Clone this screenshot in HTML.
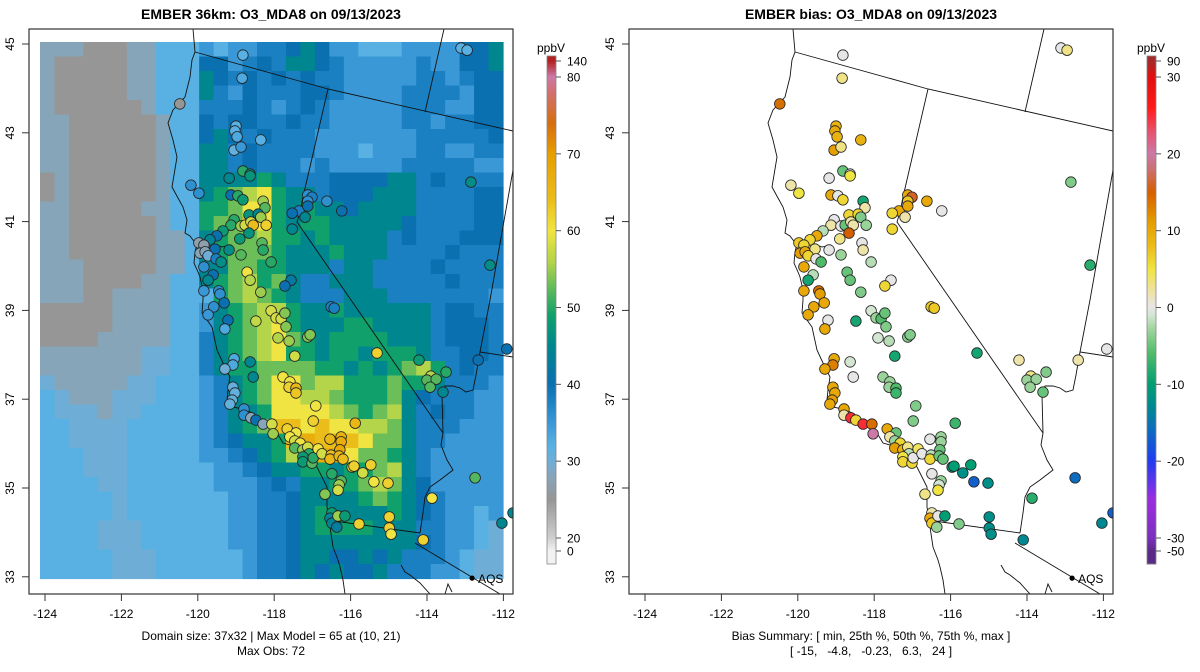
<!DOCTYPE html>
<html><head><meta charset="utf-8"><title>EMBER O3_MDA8</title>
<style>
html,body{margin:0;padding:0;background:#fff;}
svg{display:block;font-family:"Liberation Sans",Arial,sans-serif;}
</style></head>
<body>
<svg id="fig" width="1200" height="672" viewBox="0 0 1200 672" xmlns="http://www.w3.org/2000/svg">
<defs>
<clipPath id="clipL"><rect x="29" y="29" width="484" height="565"/></clipPath>
<clipPath id="clipR"><rect x="629" y="29" width="484" height="565"/></clipPath>
</defs>
<text x="271" y="19" text-anchor="middle" font-size="14" font-weight="bold">EMBER 36km: O3_MDA8 on 09/13/2023</text>
<text x="871" y="19" text-anchor="middle" font-size="14" font-weight="bold">EMBER bias: O3_MDA8 on 09/13/2023</text>
<g id="left-panel"></g>
<g id="right-panel"></g>
<text x="271" y="640" text-anchor="middle" font-size="12">Domain size: 37x32 | Max Model = 65 at (10, 21)</text>
<text x="271" y="655" text-anchor="middle" font-size="12">Max Obs: 72</text>
<text x="871" y="640" text-anchor="middle" font-size="12">Bias Summary: [ min, 25th %, 50th %, 75th %, max ]</text>
<text x="871" y="655" text-anchor="middle" font-size="12" xml:space="preserve">[ -15,   -4.8,   -0.23,   6.3,   24 ]</text>
</svg>
<script>
// ---- data ----
const gridRows = [
"hhhggghhlll"+"mlmmbbdtdmm"+"lllmmmmddt",
"hggggghhlll"+"ddmbdbttdbm"+"mmmmbmmddt",
"hggggghhlll"+"tdbdbdbdbbm"+"mmmmbbmbdd",
"hggggghhlll"+"tbmdbbbddbm"+"mmmbbbbmdd",
"hgggggghlll"+"bbbdbmbdbmm"+"mmmbbbmmdd",
"hhgggggghll"+"dbddbbdbbmm"+"mmmbbmbbdd",
"hhgggggghll"+"dtdbdbbbmmm"+"mmmmbbbbbd",
"hhgggggghll"+"ttbdbbbbmmm"+"lmmmbbmmbb",
"hhgggggghll"+"ttbdbbbmbmm"+"mmmbbbbbmm",
"ghgggggghll"+"ttttGtbbbdd"+"ddttbdbbbb",
"ghgggggghll"+"tGLKYGttbdd"+"dtttbbbbdd",
"hhggggghhll"+"GGLYYGtGttd"+"ttttbbbbdd",
"hhgggggghll"+"GLLOYGtGGtt"+"tttdbbbbdd",
"hhgggggghhl"+"tGLLKGGtGtt"+"ttbdbbbddd",
"hhgggggghhl"+"tGLLLGtttGt"+"ttbbbbdbbb",
"hhhggggghhl"+"ttLLGGtttbt"+"tbbbbdbbbb",
"hhhgggghhll"+"tGLKGLtbbtt"+"tbbbbbdbbb",
"hhhgghhhhll"+"lGLKLGtbbbt"+"ttbbbbbbbm",
"ggggghhhhll"+"mtGLKKGttGt"+"tttttbddbb",
"ggggghhhhll"+"mtGLKYGtttG"+"Gttttbdddb",
"gggghhhhhll"+"btGLKYLGtGG"+"GGtttbdddb",
"hhhhhhhiill"+"btGLKYGGtGG"+"tGGGtbbddb",
"hhhhhhhiill"+"btGGLLLLGGt"+"GtGLKGbdbb",
"ihhhhhiilll"+"mbtGLYYLKKG"+"GGLGGtbbbm",
"lihhhiiilll"+"mbtGLYYKKLG"+"GGLtdbbbmm",
"liiihiillll"+"mbttGYYYYKL"+"GLKtbdbbmm",
"lliiiilllll"+"mbtGLOOYOYY"+"KKLtbbbmmm",
"lliiiilllll"+"mbdttGOROOO"+"YLLtbbmmmm",
"llliiilllll"+"mmbdtGKORRY"+"LLGtbmmmmm",
"llliiilllll"+"lmmbdttGGtG"+"GLKtbmmmmm",
"lllliilllll"+"lmmmbdbttGG"+"LKLtdmmmmm",
"lllllilllll"+"llmmbbdtttt"+"GLGtdbmmmm",
"lllllilllll"+"llmmbbdtGtt"+"ttGtdbmmlm",
"lllliiilll"+"lllmmbbdtGGG"+"Gtttbbmmli",
"lllliiilll"+"lllmmbbdtttt"+"ttttdbmmli",
"llllliiilll"+"lllmbbdttdd"+"tdtbbbmlii",
"llllliiilll"+"lllmbbdtdtd"+"dtbbbmmlii"];
const levelCodes = ["g","h","i","l","m","b","d","t","G","L","K","Y","O","R"];
const levelValues = [25,28,30,32,35,38,40,45,49,53,56,60,64,67];

const siteLon = [-118.82,-118.84,-120.47,-119.00,-119.03,-118.97,-118.35,-119.05,-118.87,-118.82,-118.63,-118.63,-119.18,-120.18,-119.97,-119.13,-118.95,-118.82,-118.29,-118.24,-118.66,-118.42,-118.35,-119.05,-119.13,-118.87,-118.76,-118.61,-118.55,-118.21,-118.66,-119.34,-119.50,-119.68,-119.97,-119.84,-118.90,-118.32,-118.29,-119.55,-119.18,-119.94,-119.81,-119.73,-119.52,-119.39,-118.87,-118.08,-119.84,-119.60,-119.73,-118.71,-118.63,-117.56,-117.72,-119.84,-119.45,-119.42,-118.35,-119.31,-119.58,-116.51,-116.43,-119.73,-119.21,-118.48,-118.08,-117.95,-117.82,-117.72,-117.35,-117.53,-117.19,-117.53,-117.12,-117.01,-117.12,-117.12,-116.62,-116.23,-113.11,-112.95,-112.85,-112.35,
-119.29,-117.69,-117.90,-117.61,-117.12,-117.06,-117.46,-115.31,-119.05,-119.08,-119.29,-118.63,-118.55,-117.77,-117.59,-117.61,-117.43,-117.43,-119.08,-119.03,-119.10,-119.16,-116.91,-116.98,-115.88,-114.21,-113.90,-114.00,-113.76,-113.92,-113.50,-113.58,-112.66,-111.91,-118.79,-118.79,-118.61,-118.48,-118.29,-118.06,-118.03,-117.66,-117.43,-117.59,-117.46,-117.32,-117.46,-117.25,-117.12,-117.09,-117.25,-117.25,-117.01,-116.98,-116.85,-116.75,-116.54,-116.25,-116.25,-116.28,-116.51,-116.54,-116.30,-116.20,-115.96,-115.91,-115.68,-115.47,-115.39,-115.02,-116.49,-116.25,-116.30,-116.33,-116.67,-113.87,-112.74,-116.49,-116.54,-116.49,-116.33,-116.15,-116.36,-115.78,-114.99,-114.99,-114.94,-114.10,-112.04,-111.75];
const siteLat = [44.75,44.23,43.65,43.15,43.04,42.91,42.84,42.61,42.68,42.14,42.07,42.03,41.98,41.82,41.64,41.60,41.58,41.49,41.46,41.31,41.15,41.17,41.10,41.04,40.92,40.90,40.92,40.99,40.92,40.92,40.74,40.79,40.68,40.59,40.52,40.47,40.61,40.52,40.36,40.38,40.36,40.29,40.32,40.23,40.16,40.09,40.25,40.09,39.98,39.80,39.68,39.86,39.68,39.68,39.55,39.44,39.44,39.37,39.41,39.17,39.08,39.08,39.05,38.90,38.78,38.76,38.99,38.83,38.81,38.94,41.24,41.19,41.10,40.83,41.60,41.55,41.46,41.35,41.46,41.24,44.91,44.86,41.89,40.02,
38.58,38.63,38.38,38.31,38.40,38.45,37.97,38.04,37.91,37.77,37.68,37.84,37.50,37.50,37.39,37.27,37.25,37.14,37.27,37.14,36.98,36.89,36.85,36.51,36.46,37.88,37.52,37.43,37.45,37.27,37.61,37.16,37.88,38.13,36.78,36.64,36.58,36.53,36.44,36.44,36.22,36.33,36.24,36.15,36.06,36.01,35.90,35.86,35.92,35.77,35.70,35.59,35.56,35.68,35.88,35.77,36.10,36.15,36.04,35.86,35.74,35.65,35.72,35.65,35.47,35.49,35.34,35.52,35.14,35.11,35.32,35.16,35.07,34.95,34.86,34.77,35.23,34.44,34.32,34.21,34.37,34.37,34.12,34.19,34.35,34.10,33.96,33.83,34.21,34.44];
const siteObs = [32,33,25,32,32,33,32,31,35,50,48,47,45,36,36,40,50,48,55,52,47,45,55,50,50,55,58,58,64,62,47,48,40,44,27,27,48,52,50,40,46,28,28,30,38,46,52,50,36,40,45,60,56,42,40,35,36,36,55,40,36,38,38,35,40,57,58,58,58,54,38,40,45,45,36,38,36,40,36,40,32,32,46,46,
33,54,56,55,54,54,58,62,33,33,30,45,45,60,60,62,65,63,31,31,31,31,60,62,65,48,56,52,52,52,50,45,40,40,36,36,28,40,28,58,55,62,60,60,58,60,52,55,58,50,48,48,52,50,60,58,65,66,67,68,64,65,65,64,62,62,58,62,60,62,50,52,55,58,54,60,52,48,44,44,55,48,43,62,62,62,60,62,45,45];
const siteBias = [0,3,14,9,10,9,9,11,3,-5,0,5,0,2,5,10,0,6,-9,2,6,6,-4,0,2,0,-5,2,2,-3,15,-2,10,6,7,6,3,0,2,3,0,11,10,6,0,-6,-3,-2,10,-2,-9,-5,-5,0,6,10,14,11,-4,10,10,7,7,10,0,-9,-1,-3,-6,-5,10,6,2,6,10,16,7,10,10,0,0,3,-4,-8,
10,-4,-1,-2,-4,-4,-9,-9,10,13,10,-1,0,-3,-3,-3,-6,-7,10,10,11,10,-4,-4,-7,2,3,-3,-3,-3,-4,-5,2,0,10,2,25,6,25,14,20,10,-5,2,-3,6,11,9,3,-2,5,6,6,0,4,0,0,-3,-3,-5,-2,6,-5,-5,-10,-10,-12,-10,-17,-12,0,-3,-1,5,3,-8,-16,2,10,7,0,-10,-3,-4,-12,-12,-12,-13,-13,-17];

const aqsLon = -112.82, aqsLat = 32.97;
const lonTicks = [-124,-122,-120,-118,-116,-114,-112];
const latTicks = [33,35,37,39,41,43,45];
const obsBarTicks = [0,20,30,40,50,60,70,80,140];
const biasBarTicks = [-50,-30,-20,-10,0,10,20,30,90];

// ---- scales ----
const NS = "http://www.w3.org/2000/svg";
function xAxis(lon, off){ return off + 45 + (lon + 124) * 38.2; }
function yAxis(lat){ return 44 + (45 - lat) * 44.4; }
function hex(c){ return [parseInt(c.substr(1,2),16),parseInt(c.substr(3,2),16),parseInt(c.substr(5,2),16)]; }
function interp(stops, v){
  if (v <= stops[0][0]) return stops[0][1];
  for (let i=1;i<stops.length;i++){
    if (v <= stops[i][0]){
      const t=(v-stops[i-1][0])/(stops[i][0]-stops[i-1][0]);
      const a=hex(stops[i-1][1]), b=hex(stops[i][1]);
      return "rgb("+a.map((x,k)=>Math.round(x+(b[k]-x)*t)).join(",")+")";
    }
  }
  return stops[stops.length-1][1];
}
const obsStops=[[0,'#f2f2f2'],[20,'#cfcfcf'],[25,'#969696'],[28,'#87a5b8'],[30,'#6eaed6'],[32,'#58b1e2'],[35,'#3a98d6'],[38,'#1a80c2'],[40,'#0a70b0'],[45,'#00868e'],[49,'#10a06c'],[53,'#6cbf58'],[56,'#b4d44a'],[60,'#f0e442'],[64,'#ebbd1a'],[70,'#e69f00'],[74,'#d56e10'],[78,'#d27070'],[80,'#cc79a7'],[140,'#b22222']];
const biasStops=[[-50,'#5b2a86'],[-30,'#7b2fbe'],[-25,'#9a2de0'],[-20,'#1f3cf0'],[-16,'#0d6bc0'],[-13,'#008892'],[-10,'#009e73'],[-6,'#4fbb6a'],[-3,'#9ad39a'],[-1,'#d2e6d2'],[0,'#e6e6e6'],[2,'#eee3a8'],[5,'#f0e442'],[8,'#ebbc18'],[11,'#e69f00'],[15,'#d55e00'],[18,'#cc7070'],[20,'#cc79a7'],[23,'#e8506a'],[26,'#ff1a1a'],[30,'#e01010'],[90,'#a52a2a']];
function barY(v, keys){
  const ys=[564,551,538,77,61,56];
  for(let i=1;i<keys.length;i++){ if(v<=keys[i]) return ys[i-1]+(ys[i]-ys[i-1])*(v-keys[i-1])/(keys[i]-keys[i-1]); }
  return 56;
}
const obsKeys=[-5,0,20,80,140,150], biasKeys=[-60,-50,-30,30,90,100];

function el(tag, attrs, parent){ const e=document.createElementNS(NS,tag); for(const k in attrs) e.setAttribute(k,attrs[k]); parent.appendChild(e); return e; }

const coast = [[193,29],[195,52],[192,60],[190,77],[185,97],[173,110],[168,123],[173,140],[177,157],[172,187],[178,198],[183,207],[187,220],[185,233],[190,236],[193,240],[197,244],[195,252],[194,263],[198,272],[200,277],[203,290],[203,300],[202,313],[207,320],[212,327],[217,350],[223,363],[230,377],[228,390],[227,400],[233,407],[247,410],[263,420],[277,433],[283,443],[297,447],[303,457],[317,467],[322,477],[327,487],[327,507],[330,527],[333,547],[338,560],[340,567],[343,580],[345,594]];
const borders = [
 [[195,52],[328,89],[513,131]],
 [[444,29],[425,112]],
 [[328,89],[303,197],[300,212],[297,222],[443,433]],
 [[443,433],[441,445],[447,460],[453,470],[440,480],[430,487],[425,497],[423,513],[420,533]],
 [[327,520],[420,533]],
 [[415,543],[500,594]],
 [[513,170],[490,300],[480,352],[513,357]],
 [[480,352],[476,375],[473,390],[466,392],[460,388],[453,386],[445,386],[442,395],[443,433]],
 [[197,240],[212,243],[222,247],[230,245]],
 [[401,565],[405,572],[410,575],[420,583],[430,594]],
 [[445,594],[448,584],[452,592]]
];
function pts(a,off){ return a.map(p=>(p[0]+off)+","+p[1]).join(" "); }

function drawPanel(g, off, isBias){
  const clip = isBias ? "url(#clipR)" : "url(#clipL)";
  const inner = el("g",{"clip-path":clip},g);
  if(!isBias){
    const rg = el("g",{},inner);
    
    
    const cw=463/32, rh=536.5/37;
    gridRows.forEach((row,r)=>{
      for(let c=0;c<32;c++){
        const ch=row[c]||"b";
        const v=levelValues[levelCodes.indexOf(ch)];
        el("rect",{x:(40+c*cw).toFixed(2),y:(42+r*rh).toFixed(2),width:(cw+0.6).toFixed(2),height:(rh+0.6).toFixed(2),fill:interp(obsStops,v)},rg);
      }
    });
  }
  const lg = el("g",{fill:"none",stroke:"#111","stroke-width":"0.9"},inner);
  
  
  el("polyline",{points:pts(coast,off)},lg);
  borders.forEach(b=>el("polyline",{points:pts(b,off)},lg));
  const sg = el("g",{},inner);
  
  
  for(let i=0;i<siteLon.length;i++){
    const v = isBias ? siteBias[i] : siteObs[i];
    const c = el("circle",{cx:xAxis(siteLon[i],off).toFixed(1),cy:yAxis(siteLat[i]).toFixed(1),r:"5.3",fill:interp(isBias?biasStops:obsStops,v),stroke:"#222","stroke-width":"0.8"},sg);
    
    
  }
  const ax=xAxis(aqsLon,off), ay=yAxis(aqsLat);
  const aq=el("circle",{cx:ax,cy:ay,r:"2.6",fill:"#000"},inner);
  
  
  const at=el("text",{x:ax+6,y:ay+5,"font-size":"12"},inner); at.textContent="AQS";
  
  
  const box=el("rect",{x:29+off,y:29,width:484,height:565,fill:"none",stroke:"#333","stroke-width":"1.2"},g);
  
  
  lonTicks.forEach(t=>{
    const x=xAxis(t,off);
    el("line",{x1:x,y1:594,x2:x,y2:601,stroke:"#333"},g);
    const tx=el("text",{x:x,y:618,"text-anchor":"middle","font-size":"12"},g); tx.textContent=t;
    
    
  });
  latTicks.forEach(t=>{
    const y=yAxis(t);
    el("line",{x1:22+off,y1:y,x2:29+off,y2:y,stroke:"#333"},g);
    const tx=el("text",{x:14+off,y:y,"text-anchor":"middle","font-size":"12",transform:"rotate(-90 "+(14+off)+" "+y+")"},g); tx.textContent=t;
    
    
  });
  const cb=el("g",{},g);
  
  
  const keys=isBias?biasKeys:obsKeys, stops=isBias?biasStops:obsStops;
  const bx=547+off;
  for(let y=56;y<564;y+=2){
    let lo=keys[0],hi=keys[keys.length-1];
    for(let k=0;k<30;k++){ const m=(lo+hi)/2; if(barY(m,keys)>y+1) lo=m; else hi=m; }
    el("rect",{x:bx,y:y,width:9,height:2.4,fill:interp(stops,(lo+hi)/2)},cb);
  }
  el("rect",{x:bx,y:56,width:9,height:508,fill:"none",stroke:"#888","stroke-width":"0.8"},cb);
  (isBias?biasBarTicks:obsBarTicks).forEach(t=>{
    const y=barY(t,keys);
    el("line",{x1:bx+9,y1:y,x2:bx+14,y2:y,stroke:"#555"},cb);
    const tx=el("text",{x:bx+20,y:y+4.5,"font-size":"12"},cb); tx.textContent=t;
    
    
  });
  const u=el("text",{x:bx+4,y:52,"text-anchor":"middle","font-size":"12"},cb); u.textContent="ppbV";
  
  
}
drawPanel(document.getElementById("left-panel"),0,false);
drawPanel(document.getElementById("right-panel"),600,true);
</script>
</body></html>
